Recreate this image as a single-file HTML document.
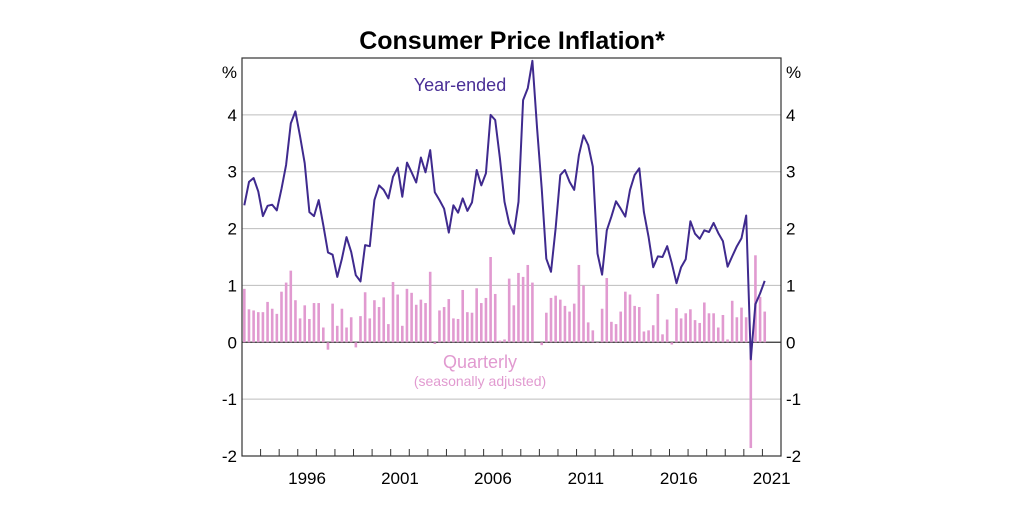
<!DOCTYPE html>
<html><head><meta charset="utf-8"><style>
html,body{margin:0;padding:0;background:#fff;}
svg{display:block;font-family:"Liberation Sans",Arial,sans-serif;}
</style></head><body>
<svg width="1024" height="525" viewBox="0 0 1024 525">
<text x="512" y="49" text-anchor="middle" font-size="25" font-weight="bold" fill="#000">Consumer Price Inflation*</text>
<g id="grid"></g>
<g id="bars"></g>
<path id="line" fill="none" stroke="#3f2a8e" stroke-width="2" stroke-linejoin="round"></path>
<rect x="242" y="58" width="539" height="398" fill="none" stroke="#333" stroke-width="1.2"/>
<g id="ticks"></g>
<text x="460" y="91" text-anchor="middle" font-size="18" fill="#4a2f96">Year-ended</text>
<text x="480" y="368" text-anchor="middle" font-size="18" fill="#e19ad0">Quarterly</text>
<text x="480" y="386" text-anchor="middle" font-size="14" fill="#e19ad0">(seasonally adjusted)</text>
<text x="237" y="78" text-anchor="end" font-size="17">%</text>
<text x="786" y="78" font-size="17">%</text>
</svg>
<script>
const yearEnded=[2.41,2.82,2.89,2.65,2.22,2.4,2.42,2.32,2.7,3.12,3.85,4.06,3.62,3.15,2.29,2.22,2.5,2.06,1.58,1.54,1.15,1.47,1.85,1.59,1.18,1.07,1.71,1.69,2.5,2.76,
2.68,2.53,2.91,3.07,2.56,3.16,2.99,2.81,3.25,2.99,3.38,2.64,2.5,2.35,1.93,2.41,2.28,2.53,2.31,2.46,3.03,2.76,2.97,4.0,3.91,3.24,2.47,2.09,1.91,
2.47,4.26,4.47,4.95,3.76,2.71,1.47,1.24,2.0,2.94,3.03,2.82,2.68,3.29,3.64,3.47,3.09,1.56,1.19,1.97,2.21,2.48,2.35,2.21,2.68,2.94,3.06,2.29,1.85,
1.32,1.51,1.5,1.69,1.39,1.04,1.32,1.46,2.13,1.91,1.82,1.97,1.94,2.1,1.92,1.78,1.33,1.51,1.69,1.83,2.23,-0.3,0.67,0.86,1.08];
const quarterly=[0.94,0.58,0.56,0.53,0.53,0.71,0.59,0.5,0.89,1.05,1.26,0.74,0.42,0.65,0.41,0.69,0.69,0.26,-0.13,0.68,0.29,0.59,0.26,0.44,-0.09,0.46,0.88,0.42,0.74,0.62,
0.79,0.32,1.06,0.84,0.29,0.94,0.87,0.66,0.75,0.69,1.24,-0.03,0.56,0.62,0.76,0.42,0.41,0.92,0.53,0.52,0.95,0.69,0.78,1.5,0.85,0.03,0.05,1.12,0.65,
1.22,1.15,1.36,1.05,0.0,-0.05,0.52,0.78,0.82,0.75,0.64,0.54,0.68,1.36,1.0,0.35,0.21,-0.01,0.59,1.13,0.36,0.32,0.54,0.89,0.84,0.64,0.62,0.19,0.21,
0.3,0.85,0.14,0.4,-0.04,0.6,0.42,0.51,0.58,0.39,0.34,0.7,0.51,0.51,0.26,0.48,0.05,0.73,0.44,0.61,0.44,-1.86,1.53,0.8,0.54];
const yTicks=[-2,-1,0,1,2,3,4];
const yearLabels=["1996","2001","2006","2011","2016","2021"];
const startYear=1993;
const NS="http://www.w3.org/2000/svg";
const X0=242,X1=781,Y0=456,Y1=58,YMIN=-2,YMAX=5,YEARS=29;
function xs(t){return X0+(t-startYear)/YEARS*(X1-X0);}
function xq(i){return xs(startYear+(i+0.5)/4);}
function ys(v){return Y0-(v-YMIN)/(YMAX-YMIN)*(Y0-Y1);}
function mk(tag,attrs,parent){const e=document.createElementNS(NS,tag);for(const k in attrs)e.setAttribute(k,attrs[k]);document.getElementById(parent).appendChild(e);return e;}
yTicks.forEach(v=>{
  const g=mk('line',{x1:X0,x2:X1,y1:ys(v),y2:ys(v),stroke:v===0?'#333':'#bdbdbd','stroke-width':v===0?1.2:1},'grid');
  
  
  const l=mk('text',{x:237,y:ys(v)+6,'text-anchor':'end','font-size':17},'ticks');l.textContent=v;
  
  
  const r=mk('text',{x:786,y:ys(v)+6,'font-size':17},'ticks');r.textContent=v;
  
  
});
for(let yr=startYear+1;yr<startYear+YEARS;yr++){
  const t=mk('line',{x1:xs(yr),x2:xs(yr),y1:Y0,y2:Y0-7,stroke:'#333','stroke-width':1},'ticks');
  
  
}
yearLabels.forEach(s=>{
  const t=mk('text',{x:xs(+s+0.5),y:484,'text-anchor':'middle','font-size':17},'ticks');t.textContent=s;
  
  
});
quarterly.forEach((v,i)=>{
  const y=ys(Math.max(v,0)),h=Math.abs(ys(v)-ys(0));
  const b=mk('rect',{x:xq(i)-1.3,y:y,width:2.6,height:Math.max(h,0.01),fill:'#e19ad0'},'bars');
  
  
});
document.getElementById('line').setAttribute('d',yearEnded.map((v,i)=>(i?'L':'M')+xq(i).toFixed(1)+','+ys(v).toFixed(1)).join(''));
</script>
</body></html>
